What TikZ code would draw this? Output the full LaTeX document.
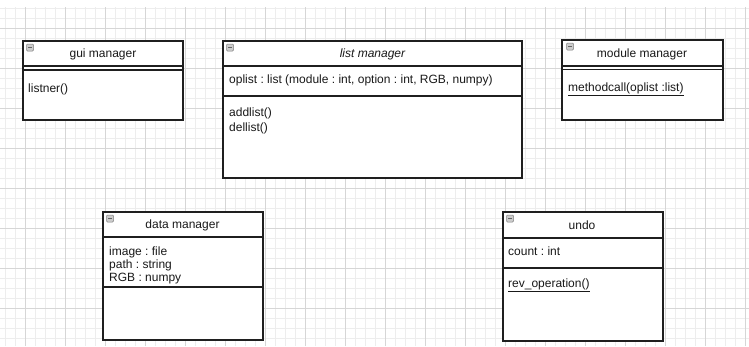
\documentclass[tikz,border=0pt]{standalone}
\usepackage{fontspec}
\setmainfont{Liberation Sans}
\frenchspacing
\begin{document}
\frenchspacing
\begin{tikzpicture}[x=1pt,y=-1pt,
  box/.style={draw=black!88, line width=1.4pt},
  sep/.style={draw=black!88, line width=1.2pt},
  minorgrid/.style={draw=black!7, line width=0.8pt},
  majorgrid/.style={draw=black!16, line width=0.8pt},
  lbl/.style={inner sep=0pt, font=\fontsize{12}{14}\selectfont, text=black!90},
  title/.style={lbl, anchor=center},
  member/.style={lbl, anchor=west},
  minbox/.pic={
    \draw[draw=black!50, fill=black!20, rounded corners=1pt, line width=0.5pt] (0,0) rectangle (7,7);
    \draw[black!60, line width=0.8pt] (1.5,3.5) -- (5.5,3.5);
  }]
\useasboundingbox (0,0) rectangle (749,346);
\fill[white] (0,0) rectangle (749,346);
% grid
\foreach \x in {5,15,...,745} \draw[minorgrid] (\x,7) -- (\x,346);
\foreach \y in {8,18,...,338} \draw[minorgrid] (0,\y) -- (749,\y);
\foreach \x in {25,65,...,745} \draw[majorgrid] (\x,7) -- (\x,346);
\foreach \y in {28,68,...,308} \draw[majorgrid] (0,\y) -- (749,\y);

% gui manager
\fill[white] (23,41) rectangle (183,120);
\draw[sep] (23,66) -- (183,66);
\draw[sep] (23,70) -- (183,70);
\draw[box] (23,41) rectangle (183,120);
\pic at (26.5,44) {minbox};
\node[title] (guiT) at (103,54) {gui manager};
\node[member] (guiM1) at (28,89) {listner()};

% list manager
\fill[white] (223,41) rectangle (522,178);
\draw[sep] (223,66) -- (522,66);
\draw[sep] (223,96) -- (522,96);
\draw[box] (223,41) rectangle (522,178);
\pic at (226.5,44) {minbox};
\node[title] (listT) at (372.5,54) {\itshape list manager};
\node[member] (listA1) at (229,80) {oplist : list (module : int, option : int, RGB, numpy)};
\node[member] (listM1) at (229,113) {addlist()};
\node[member] (listM2) at (229,128) {dellist()};

% module manager
\fill[white] (562,40) rectangle (723,120);
\draw[sep] (562,66) -- (723,66);
\draw[sep] (562,69.5) -- (723,69.5);
\draw[box] (562,40) rectangle (723,120);
\pic at (566.5,43) {minbox};
\node[title] (modT) at (642,54) {module manager};
\node[member] (modM1) at (568,89) {\underline{methodcall(oplist :list)}};

% data manager
\fill[white] (103,212) rectangle (263,340);
\draw[sep] (103,237) -- (263,237);
\draw[sep] (103,287) -- (263,287);
\draw[box] (103,212) rectangle (263,340);
\pic at (106.5,215) {minbox};
\node[title] (dataT) at (182.5,225) {data manager};
\node[member] (dataA1) at (109,252) {image : file};
\node[member] (dataA2) at (109,265.5) {path : string};
\node[member] (dataA3) at (109,279) {RGB : numpy};

% undo
\fill[white] (503,212) rectangle (663,341);
\draw[sep] (503,238) -- (663,238);
\draw[sep] (503,268) -- (663,268);
\draw[box] (503,212) rectangle (663,341);
\pic at (506.5,215) {minbox};
\node[title] (undoT) at (582,225) {undo};
\node[member] (undoA1) at (508,251) {count : int};
\node[member] (undoM1) at (508,285) {\underline{rev\_operation()}};
\end{tikzpicture}
\end{document}
